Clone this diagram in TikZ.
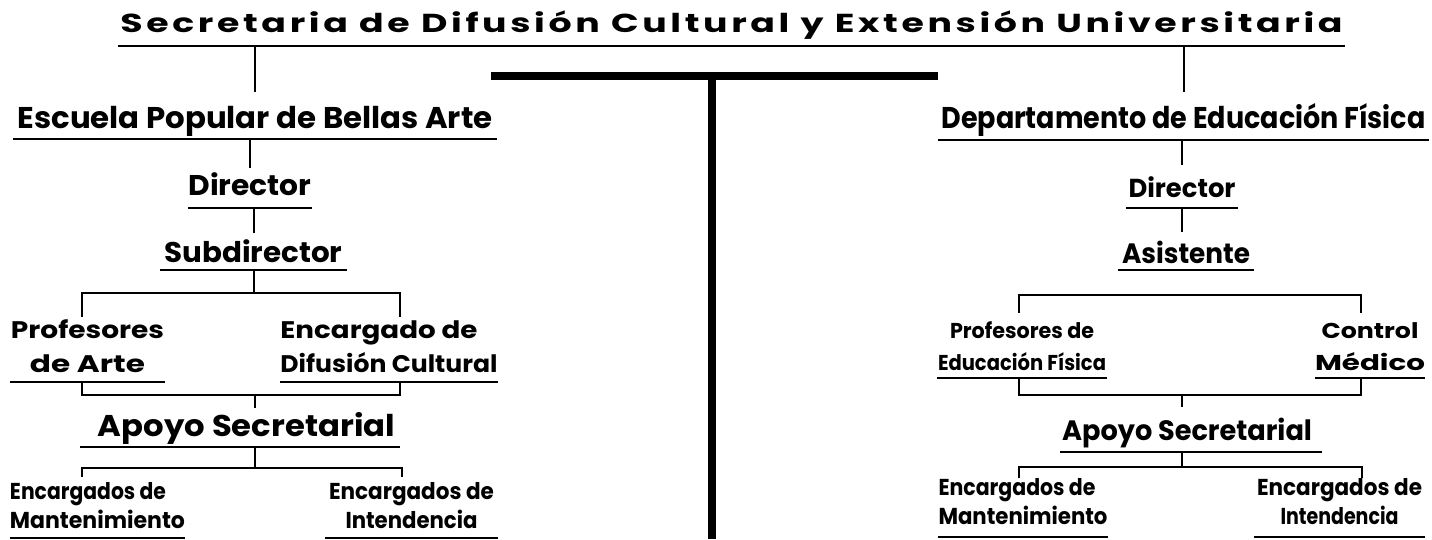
\documentclass[tikz,border=0pt]{standalone}
\usepackage{fontspec}
\setmainfont{Poppins}
\usepackage{graphicx}
\newcommand\fitw[2]{\resizebox{#1}{\height}{#2}}
\newcommand\fsz[2]{\fontsize{#1}{#2}\bfseries\selectfont}
\begin{document}
\begin{tikzpicture}[x=1pt,y=-1pt,
  ln/.style={line width=2pt},
  tbar/.style={line width=8pt},
  lbl/.style={inner sep=0pt, anchor=base},
]
\useasboundingbox (0,0) rectangle (1432,539);
\fill[white] (0,0) rectangle (1432,539);

% ---------- title ----------
\node[lbl, minimum width=1227pt, text height=22pt, text depth=14pt,
      font=\fsz{26}{30}\addfontfeatures{LetterSpace=10}] (T) at (731.5,32)
  {\fitw{1222pt}{Secretaria de Difusión Cultural y Extensión Universitaria}};

% ---------- left branch ----------
\node[lbl, minimum width=484pt, text height=36pt, text depth=11pt, font=\fsz{30}{36}] (E) at (255,128)
  {\fitw{475pt}{Escuela Popular de Bellas Arte}};
\node[lbl, minimum width=124pt, text height=27pt, text depth=13pt, font=\fsz{28.5}{34}] (D1) at (250,195)
  {\fitw{123pt}{Director}};
\node[lbl, minimum width=187pt, text height=29pt, text depth=8pt, font=\fsz{28.5}{34}] (S1) at (253.5,262)
  {\fitw{178pt}{Subdirector}};
\node[lbl, minimum width=155pt, text height=55pt, text depth=10pt, font=\fsz{24}{34}] (P1) at (87.5,372)
  {\begin{tabular}[b]{@{}c@{}}\fitw{153pt}{Profesores}\\\fitw{115pt}{de Arte}\end{tabular}};
\node[lbl, minimum width=218pt, text height=55pt, text depth=10pt, font=\fsz{24}{34}] (C1) at (389,372)
  {\begin{tabular}[b]{@{}l@{}}\fitw{197pt}{Encargado de}\\\fitw{217pt}{Difusión Cultural}\end{tabular}};
\node[lbl, minimum width=320pt, text height=28pt, text depth=11pt, font=\fsz{30}{36}] (A1) at (240,436)
  {\hspace*{13pt}\fitw{297pt}{Apoyo Secretarial}};
\node[lbl, minimum width=175pt, text height=51pt, text depth=10pt, font=\fsz{23}{29}] (M1) at (97.5,528)
  {\begin{tabular}[b]{@{}l@{}}\fitw{156pt}{Encargados de}\\\fitw{175pt}{Mantenimiento}\end{tabular}};
\node[lbl, minimum width=173pt, text height=51pt, text depth=10pt, font=\fsz{23}{29}] (I1) at (411.5,528)
  {\begin{tabular}[b]{@{}c@{}}\fitw{165pt}{Encargados de}\\\fitw{132pt}{Intendencia}\end{tabular}};

% ---------- right branch ----------
\node[lbl, minimum width=491pt, text height=36pt, text depth=12pt, font=\fsz{30}{36}] (E2) at (1183.5,128)
  {\fitw{484pt}{Departamento de Educación Física}};
\node[lbl, minimum width=112pt, text height=32pt, text depth=11pt, font=\fsz{26}{32}] (D2) at (1182,197)
  {\fitw{107pt}{Director}};
\node[lbl, minimum width=135pt, text height=31pt, text depth=7pt, font=\fsz{28}{34}] (S2) at (1186,263)
  {\fitw{128pt}{Asistente}};
\node[lbl, minimum width=170pt, text height=57pt, text depth=8pt, font=\fsz{21.5}{32}] (P2) at (1022,370)
  {\begin{tabular}[b]{@{}c@{}}\fitw{144pt}{Profesores de}\\\fitw{168pt}{Educación Física}\end{tabular}};
\node[lbl, minimum width=110pt, text height=57pt, text depth=8pt, font=\fsz{21.5}{32}] (C2) at (1370,370)
  {\begin{tabular}[b]{@{}c@{}}\fitw{97pt}{Control}\\\fitw{110pt}{Médico}\end{tabular}};
\node[lbl, minimum width=262pt, text height=33pt, text depth=12pt, font=\fsz{28}{34}] (A2) at (1191,440)
  {\hspace*{-8pt}\fitw{250pt}{Apoyo Secretarial}};
\node[lbl, minimum width=170pt, text height=46pt, text depth=13pt, font=\fsz{23}{29}] (M2) at (1023,524)
  {\begin{tabular}[b]{@{}l@{}}\fitw{157pt}{Encargados de}\\\fitw{169pt}{Mantenimiento}\end{tabular}};
\node[lbl, minimum width=171pt, text height=46pt, text depth=13pt, font=\fsz{23}{29}] (I2) at (1339.5,524)
  {\begin{tabular}[b]{@{}c@{}}\fitw{165pt}{Encargados de}\\\fitw{118pt}{Intendencia}\end{tabular}};

% ---------- underlines ----------
\foreach \n in {T,E,D1,S1,P1,C1,A1,M1,I1,E2,D2,S2,P2,C2,A2,M2,I2}
  \draw[ln] (\n.south west) -- (\n.south east);

% ---------- left connectors ----------
\draw[ln] (T.south -| E.north) -- (E.north);
\draw[ln] (E.south -| D1.north) -- (D1.north);
\draw[ln] (D1.south -| S1.north) -- (S1.north);
\coordinate (lbL) at (82,293);
\coordinate (lbR) at (400,293);
\draw[ln] (S1.south) -- (S1.south |- lbL);
\draw[ln] (P1.north -| lbL) -- (lbL) -- (lbR) -- (C1.north -| lbR);
\coordinate (lcL) at (82,395);
\coordinate (lcR) at (400,395);
\coordinate (lcM) at (255,395);
\draw[ln] (P1.south -| lcL) -- (lcL) -- (lcR) -- (C1.south -| lcR);
\draw[ln] (lcM) -- (A1.north -| lcM);
\coordinate (ldL) at (82,468);
\coordinate (ldR) at (402,468);
\coordinate (ldM) at (255,468);
\draw[ln] (A1.south -| ldM) -- (ldM);
\draw[ln] (M1.north -| ldL) -- (ldL) -- (ldR) -- (I1.north -| ldR);

% ---------- right connectors ----------
\draw[ln] (T.south -| E2.north) -- (E2.north);
\draw[ln] (E2.south -| D2.north) -- (D2.north);
\draw[ln] (D2.south) -- (D2.south |- S2.north);
\coordinate (rbL) at (1019,295);
\coordinate (rbR) at (1361,295);
\draw[ln] (P2.north -| rbL) -- (rbL) -- (rbR) -- (C2.north -| rbR);
\coordinate (rcL) at (1019,395);
\coordinate (rcR) at (1361,395);
\coordinate (rcM) at (1182,395);
\draw[ln] (P2.south -| rcL) -- (rcL) -- (rcR) -- (C2.south -| rcR);
\draw[ln] (rcM) -- (A2.north -| rcM);
\coordinate (rdL) at (1019,467);
\coordinate (rdR) at (1362,467);
\coordinate (rdM) at (1182,467);
\draw[ln] (A2.south -| rdM) -- (rdM);
\draw[ln] (M2.north -| rdL) -- (rdL) -- (rdR) -- (I2.north -| rdR);

% ---------- central T ----------
\coordinate (tbL) at (491,76);
\coordinate (tbR) at (938,76);
\coordinate (tbM) at (712,76);
\coordinate (tbB) at (712,539);
\draw[tbar] (tbL) -- (tbR);
\draw[tbar] (tbM) -- (tbB);
\end{tikzpicture}
\end{document}
